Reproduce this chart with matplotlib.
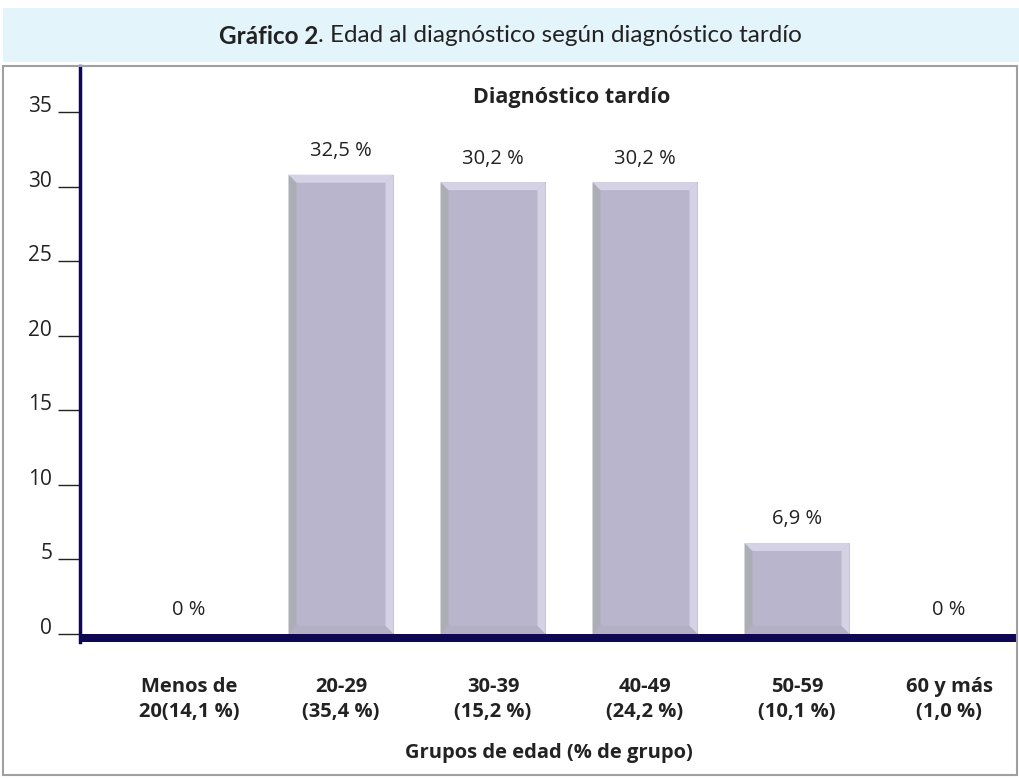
import numpy as np
import matplotlib.pyplot as plt
from matplotlib.patches import Rectangle

categories = ['Menos de\n20(14,1 %)', '20-29\n(35,4 %)', '30-39\n(15,2 %)',
              '40-49\n(24,2 %)', '50-59\n(10,1 %)', '60 y más\n(1,0 %)']
# bar heights as drawn in the picture, labels as printed
heights = [0, 30.8, 30.3, 30.3, 6.1, 0]
value_labels = ['0 %', '32,5 %', '30,2 %', '30,2 %', '6,9 %', '0 %']
yticks = [0, 5, 10, 15, 20, 25, 30, 35]

navy = '#0E0852'
fill_c = '#B8B5CC'
light_c = '#D4D2E4'
dark_c = '#ADADB6'
bot_c = '#B2B0C2'
txt = '#222222'

W, H = 1019, 780
fig = plt.figure(figsize=(W / 100, H / 100), dpi=100)

def fx(px):
    return px / W

def fy(py):
    return 1 - py / H

# title banner
fig.patches.append(Rectangle((fx(3), fy(62)), fx(1016), 54 / H, transform=fig.transFigure,
                             facecolor='#E4F4FB', edgecolor='none', zorder=0))
# frame around chart
fig.patches.append(Rectangle((fx(3), fy(775)), fx(1014), 709 / H, transform=fig.transFigure,
                             facecolor='none', edgecolor='#A0A0A0', lw=1.5, zorder=0))

renderer = fig.canvas.get_renderer()
t1 = fig.text(0, fy(36), 'Gráfico 2', fontsize=17.5, fontweight='bold', family='Lato',
              va='center', color=txt)
t2 = fig.text(0, fy(36), '. Edad al diagnóstico según diagnóstico tardío', fontsize=17.5,
              family='Lato', va='center', color=txt)
w1 = t1.get_window_extent(renderer).width
w2 = t2.get_window_extent(renderer).width
x0 = (W / 2 + 1 - (w1 + w2) / 2)
t1.set_x(x0 / W)
t2.set_x((x0 + w1) / W)

# axes geometry (pixel-based)
px_unit = 14.9
cat_step = 152.0
cat0 = 189.0
ax_left, ax_right = 80, 1017
ax_top, ax_bot = 66, 642
base_y = 634
ax = fig.add_axes([fx(ax_left), fy(ax_bot), (ax_right - ax_left) / W, (ax_bot - ax_top) / H])
ax.set_xlim((ax_left - cat0) / cat_step, (ax_right - cat0) / cat_step)
ax.set_ylim(-(ax_bot - base_y) / px_unit, 35 + (112 - ax_top) / px_unit)

x = np.arange(len(categories))
bw = 105 / cat_step
bx = 8 / cat_step
by = 8 / px_unit

ax.bar(x, heights, width=bw, color=fill_c, zorder=2)
for xi, h in zip(x, heights):
    if h <= 0:
        continue
    l, r = xi - bw / 2, xi + bw / 2
    ax.fill([l, l, l + bx, l + bx], [0, h, h - by, by], color=dark_c, lw=0, zorder=3)
    ax.fill([l, r, r - bx, l + bx], [h, h, h - by, h - by], color=light_c, lw=0, zorder=3)
    ax.fill([r, r, r - bx, r - bx], [0, h, h - by, by], color=light_c, lw=0, zorder=3)
    ax.fill([l, r, r - bx, l + bx], [0, 0, by, by], color=bot_c, lw=0, zorder=3)

for xi, h, lab in zip(x, heights, value_labels):
    ax.annotate(lab, (xi, h), xytext=(0, 17), textcoords='offset points', ha='center',
                va='center', fontsize=14.5, color=txt, family='Open Sans')

# thick baseline
ax.axhspan(ax.get_ylim()[0], 0, color=navy, zorder=4, lw=0)

for s in ['top', 'right', 'bottom']:
    ax.spines[s].set_visible(False)
ax.spines['left'].set_color(navy)
ax.spines['left'].set_linewidth(2.5)
ax.spines['left'].set_zorder(5)

ax.set_yticks(yticks)
ax.set_yticklabels([str(v) for v in yticks], fontsize=15, color=txt, family='Open Sans')
ax.tick_params(axis='y', direction='out', length=16, width=1, color=txt, pad=4)
for lab in ax.get_yticklabels():
    lab.set_va('baseline')

ax.set_xticks([])
for xi, cat in zip(x, categories):
    ax.annotate(cat, (xi, 0), xycoords=('data', 'axes fraction'), xytext=(0, -41.5),
                textcoords='offset points', ha='center', va='center', fontsize=14.5,
                fontweight='bold', family='Open Sans', color=txt, linespacing=1.35)

ax.text(0.5, -(753 - ax_bot) / (ax_bot - ax_top), 'Grupos de edad (% de grupo)',
        transform=ax.transAxes, ha='center', va='center', fontsize=14.5,
        fontweight='bold', family='Open Sans', color=txt)
fig.text(fx(572), fy(97), 'Diagnóstico tardío', ha='center', va='center',
         fontsize=15.5, fontweight='bold', family='Open Sans', color=txt)

fig.savefig('out.png', dpi=100)
